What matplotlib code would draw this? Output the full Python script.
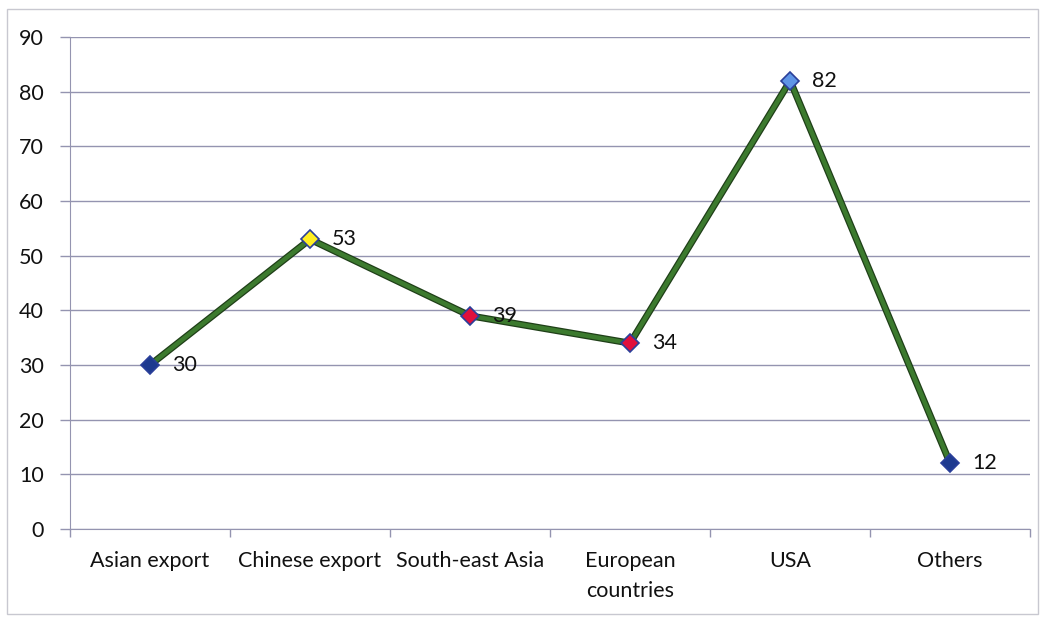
import numpy as np
import matplotlib
matplotlib.use("Agg")
import matplotlib.pyplot as plt
import matplotlib.patheffects as pe

# ----- DATA -----
categories = ["Asian export", "Chinese export", "South-east Asia",
              "European\ncountries", "USA", "Others"]
values = [30, 53, 39, 34, 82, 12]
marker_fill = ["#1e3a8f", "#ffee22", "#e0103c", "#e0103c", "#5f95e6", "#1e3a8f"]
y_ticks = list(range(0, 100, 10))

plt.rcParams["font.family"] = ["Lato", "DejaVu Sans"]
FS = 15.5

fig = plt.figure(figsize=(10.46, 6.17), dpi=100)
ax = fig.add_axes([0.0669, 0.1426, 0.918, 0.7974])

x = np.arange(len(categories))
grid_col = "#9494b0"

ax.set_xlim(-0.5, len(categories) - 0.5)
ax.set_ylim(0, 90)
ax.set_yticks(y_ticks)
ax.yaxis.grid(True, color=grid_col, linewidth=1.0)
ax.set_axisbelow(True)

# category labels at centres, tick marks at boundaries
ax.set_xticks(x)
ax.set_xticklabels(categories, fontsize=FS, color="#111111", linespacing=1.6)
ax.tick_params(axis="x", length=0, pad=16)
ax.set_xticks(np.arange(len(categories) + 1) - 0.5, minor=True)
ax.tick_params(axis="x", which="minor", length=6, color=grid_col, width=1)
ax.tick_params(axis="y", length=7, color=grid_col, width=1,
               labelsize=FS, labelcolor="#111111", pad=12)

for side in ["top", "right"]:
    ax.spines[side].set_visible(False)
ax.spines["left"].set_color(grid_col)
ax.spines["bottom"].set_color(grid_col)

# green line with darker outline
ax.plot(x, values, color="#3c7a2e", linewidth=3.2,
        path_effects=[pe.Stroke(linewidth=5, foreground="#1f3f18"), pe.Normal()],
        zorder=3)
for xi, v, c in zip(x, values, marker_fill):
    ax.plot(xi, v, marker="D", markersize=9, markerfacecolor=c,
            markeredgecolor="#2a3f9a", markeredgewidth=1.2, zorder=4)
    ax.annotate(str(v), (xi, v), xytext=(16, 0), textcoords="offset points",
                va="center", ha="left", fontsize=FS, color="#111111", zorder=5)

# outer chart border
fig.patches.append(plt.Rectangle((0.007, 0.005), 0.985, 0.98, transform=fig.transFigure,
                                 fill=False, edgecolor="#c8c8d0", linewidth=1))

fig.savefig("out.png", dpi=100)
